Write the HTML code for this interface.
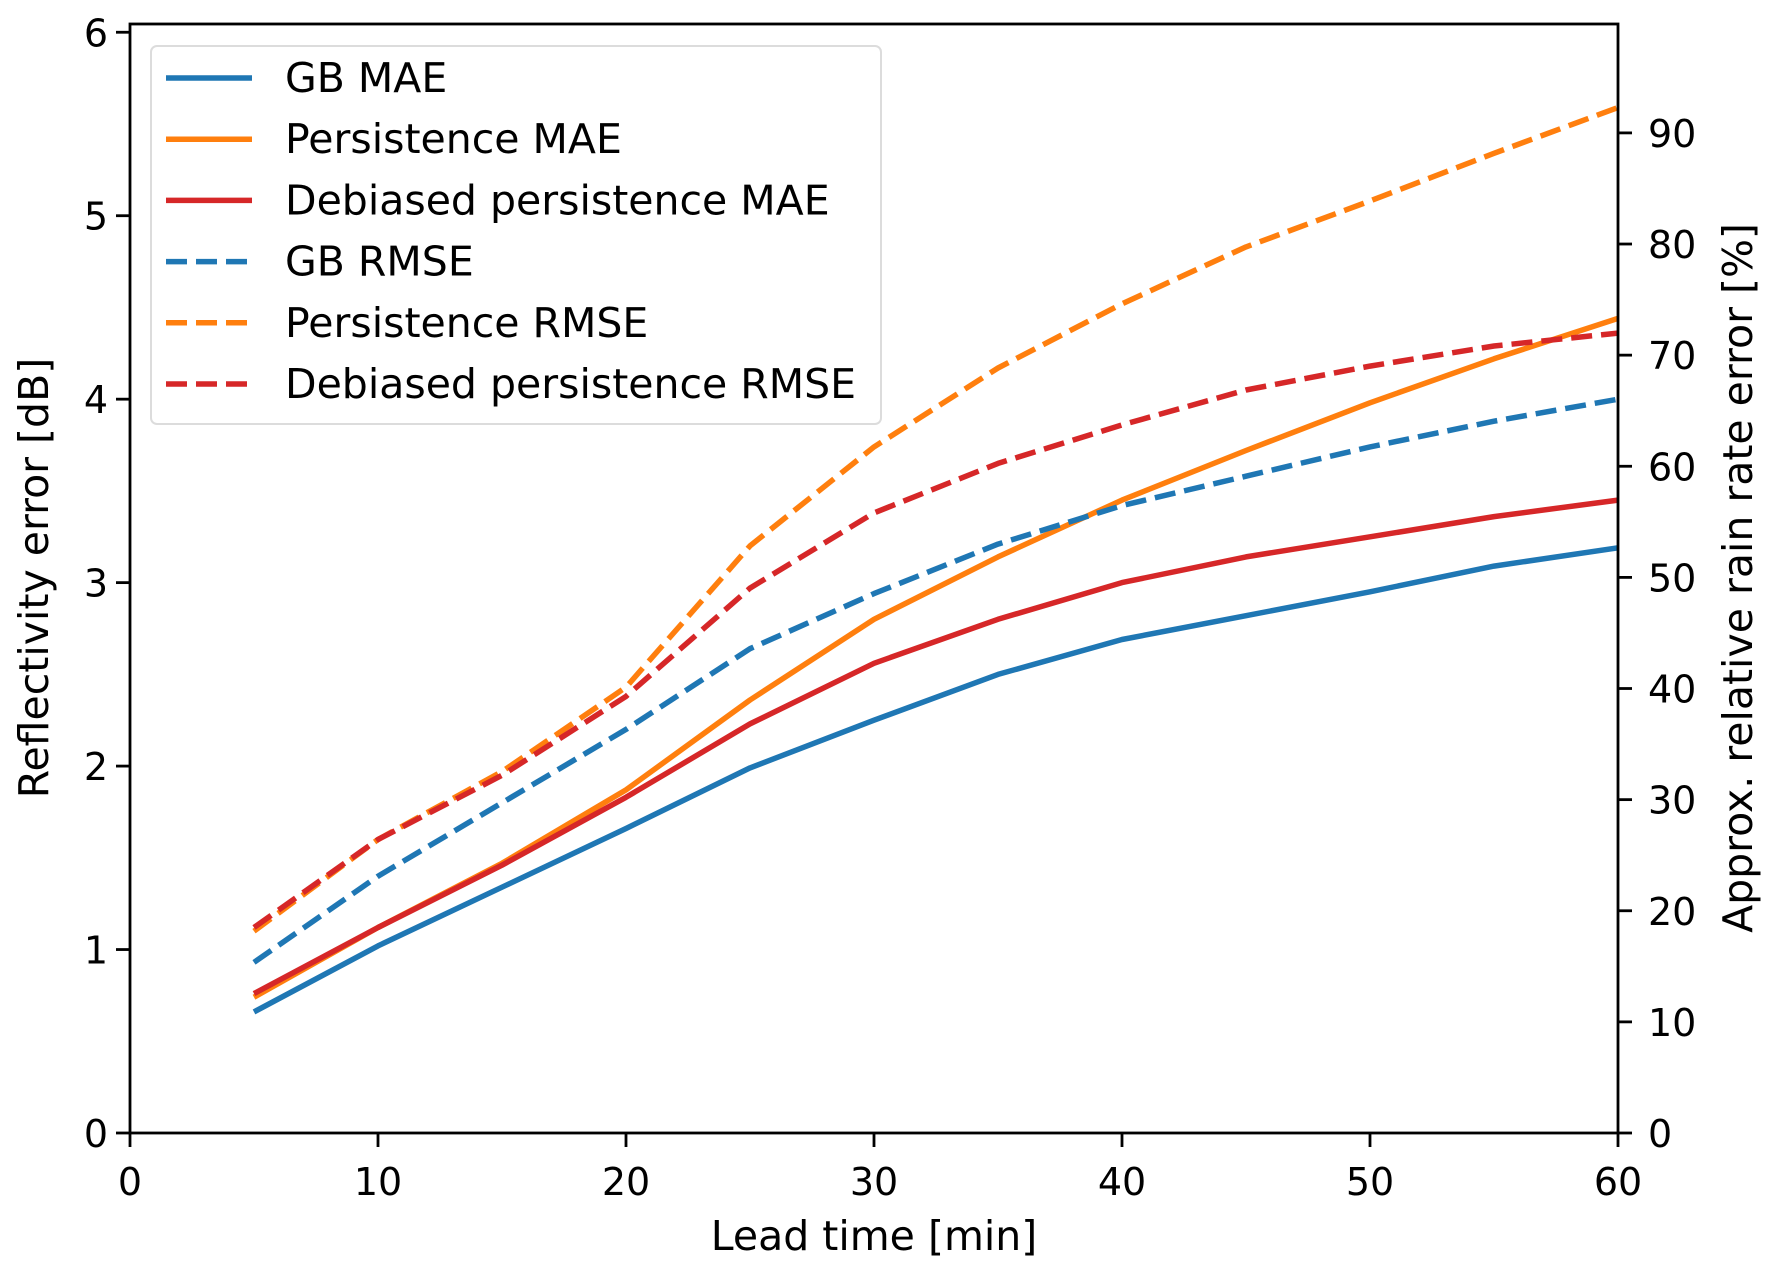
<!DOCTYPE html>
<html><head><meta charset="utf-8"><style>
html,body{margin:0;padding:0;background:#fff;}
svg{display:block;font-family:"DejaVu Sans","Liberation Sans",sans-serif;}
</style></head><body>
<svg id="chart" width="1775" height="1274" viewBox="0 0 1775 1274" xmlns="http://www.w3.org/2000/svg">
<rect width="1775" height="1274" fill="#fff"/>
<g id="ticks"></g>
<g id="series"></g>
<rect x="130" y="24" width="1488" height="1109" fill="none" stroke="#000" stroke-width="2.8"/>
<text transform="translate(48,578) rotate(-90)" text-anchor="middle" font-size="41">Reflectivity error [dB]</text>
<text transform="translate(1752,578) rotate(-90)" text-anchor="middle" font-size="41">Approx. relative rain rate error [%]</text>
<text x="874" y="1250" text-anchor="middle" font-size="41">Lead time [min]</text>
<g id="legend">
<rect x="151" y="46" width="730" height="378" rx="6" fill="#fff" fill-opacity="0.85" stroke="#dcdcdc" stroke-width="2"/>
</g>
</svg>
<script>
const leadTimes=[5,10,15,20,25,30,35,40,45,50,55,60];
const gbMae=[0.66,1.02,1.34,1.66,1.99,2.25,2.50,2.69,2.82,2.95,3.09,3.19];
const persMae=[0.74,1.12,1.47,1.87,2.36,2.80,3.14,3.45,3.72,3.98,4.22,4.44];
const debMae=[0.76,1.12,1.46,1.83,2.23,2.56,2.80,3.00,3.14,3.25,3.36,3.45];
const gbRmse=[0.93,1.40,1.80,2.20,2.64,2.94,3.21,3.42,3.58,3.74,3.88,4.00];
const persRmse=[1.10,1.60,1.97,2.43,3.20,3.74,4.17,4.52,4.83,5.08,5.34,5.59];
const debRmse=[1.12,1.60,1.95,2.38,2.97,3.38,3.65,3.86,4.05,4.18,4.29,4.36];
const xTicks=[0,10,20,30,40,50,60];
const yTicks=[0,1,2,3,4,5,6];
const y2Ticks=[0,10,20,30,40,50,60,70,80,90];
const seriesNames=["GB MAE","Persistence MAE","Debiased persistence MAE","GB RMSE","Persistence RMSE","Debiased persistence RMSE"];

const NS="http://www.w3.org/2000/svg";
const X0=130,X1=1618,Y0=1133,YT=24;
const xS=v=>X0+(v-0)/(60-0)*(X1-X0);
const yS=v=>Y0-v/6.045*(Y0-YT);
const y2S=v=>Y0-v/99.8*(Y0-YT);
function mk(tag,attrs,parent){const e=document.createElementNS(NS,tag);for(const k in attrs)e.setAttribute(k,attrs[k]);parent.appendChild(e);return e;}
const tk=document.getElementById('ticks');
xTicks.forEach(v=>{
  const l=mk('line',{x1:xS(v),x2:xS(v),y1:Y0,y2:Y0+14,stroke:'#000','stroke-width':2.8},tk);
  
  
  const t=mk('text',{x:xS(v),y:Y0+62,'text-anchor':'middle','font-size':38},tk);
  
  
  t.textContent=v;
});
yTicks.forEach(v=>{
  const l=mk('line',{x1:X0-14,x2:X0,y1:yS(v),y2:yS(v),stroke:'#000','stroke-width':2.8},tk);
  
  
  const t=mk('text',{x:X0-22,y:yS(v)+14,'text-anchor':'end','font-size':38},tk);
  
  
  t.textContent=v;
});
y2Ticks.forEach(v=>{
  const l=mk('line',{x1:X1,x2:X1+14,y1:y2S(v),y2:y2S(v),stroke:'#000','stroke-width':2.8},tk);
  
  
  const t=mk('text',{x:X1+30,y:y2S(v)+14,'text-anchor':'start','font-size':38},tk);
  
  
  t.textContent=v;
});
const allSeries=[gbMae,persMae,debMae,gbRmse,persRmse,debRmse];
const colors=['#1f77b4','#ff7f0e','#d62728','#1f77b4','#ff7f0e','#d62728'];
const sg=document.getElementById('series');
allSeries.forEach((s,i)=>{
  const d=s.map((v,j)=>(j?'L':'M')+xS(leadTimes[j]).toFixed(1)+','+yS(v).toFixed(1)).join(' ');
  const p=mk('path',{d:d,fill:'none',stroke:colors[i],'stroke-width':5.5,'stroke-linejoin':'round'},sg);
  if(i>=3)p.setAttribute('stroke-dasharray','21,9');
  
  
});
const lg=document.getElementById('legend');
seriesNames.forEach((n,i)=>{
  const y=78+i*61.2;
  const l=mk('line',{x1:166,x2:252,y1:y,y2:y,stroke:colors[i],'stroke-width':5.5},lg);
  if(i>=3)l.setAttribute('stroke-dasharray','21,9');
  
  
  const t=mk('text',{x:285,y:y+14,'font-size':41},lg);
  
  
  t.textContent=n;
});
</script>
</body></html>
